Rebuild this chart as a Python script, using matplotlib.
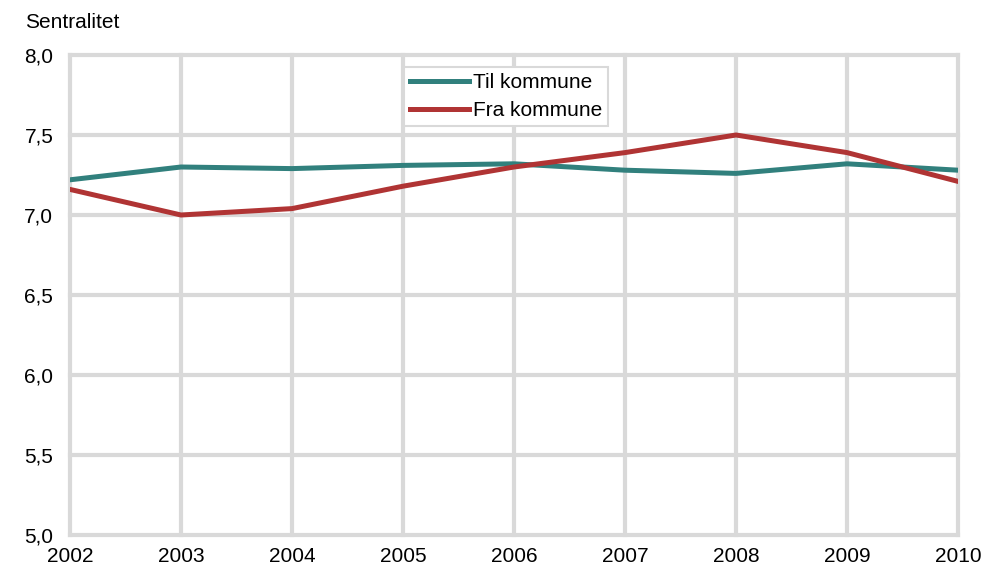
import matplotlib.pyplot as plt

plt.rcParams['font.family'] = ['Liberation Sans', 'DejaVu Sans']

years = [2002, 2003, 2004, 2005, 2006, 2007, 2008, 2009, 2010]
til_kommune = [7.22, 7.30, 7.29, 7.31, 7.32, 7.28, 7.26, 7.32, 7.28]
fra_kommune = [7.16, 7.00, 7.04, 7.18, 7.30, 7.39, 7.50, 7.39, 7.21]
yticks = [5.0, 5.5, 6.0, 6.5, 7.0, 7.5, 8.0]

W, H = 982, 570
fs = 15
fig = plt.figure(figsize=(W / 100, H / 100), dpi=100)
ax = fig.add_axes([70 / W, 1 - 535 / H, (958 - 70) / W, (535 - 55) / H])

ax.set_xlim(years[0], years[-1])
ax.set_ylim(5, 8)
ax.set_xticks(years)
ax.set_yticks(yticks)
ax.set_yticklabels([f"{v:.1f}".replace(".", ",") for v in yticks])
ax.grid(True, color="#d9d9d9", linewidth=3)
for gl in ax.get_xgridlines() + ax.get_ygridlines():
    gl.set_clip_on(False)
ax.set_axisbelow(True)
for s in ax.spines.values():
    s.set_visible(False)
ax.tick_params(length=0, labelsize=fs, colors="black")
ax.tick_params(axis="y", pad=12)
ax.tick_params(axis="x", pad=9)

ax.plot(years, til_kommune, color="#31807d", linewidth=3.6, label="Til kommune")
ax.plot(years, fra_kommune, color="#b03434", linewidth=3.6, label="Fra kommune")

leg = ax.legend(loc="upper left", bbox_to_anchor=((404 - 70) / 888, 1 - (67 - 55) / 480),
                fontsize=fs, frameon=True, fancybox=False, handlelength=2.8,
                handletextpad=0.2, borderpad=0.3, labelspacing=0.42, borderaxespad=0)
leg.get_frame().set_edgecolor("#d9d9d9")
leg.get_frame().set_linewidth(1.5)
leg.get_frame().set_alpha(1)

fig.text(25 / W, 1 - 22 / H, "Sentralitet", fontsize=fs, va="center", ha="left")

fig.savefig("out.png", dpi=100)
